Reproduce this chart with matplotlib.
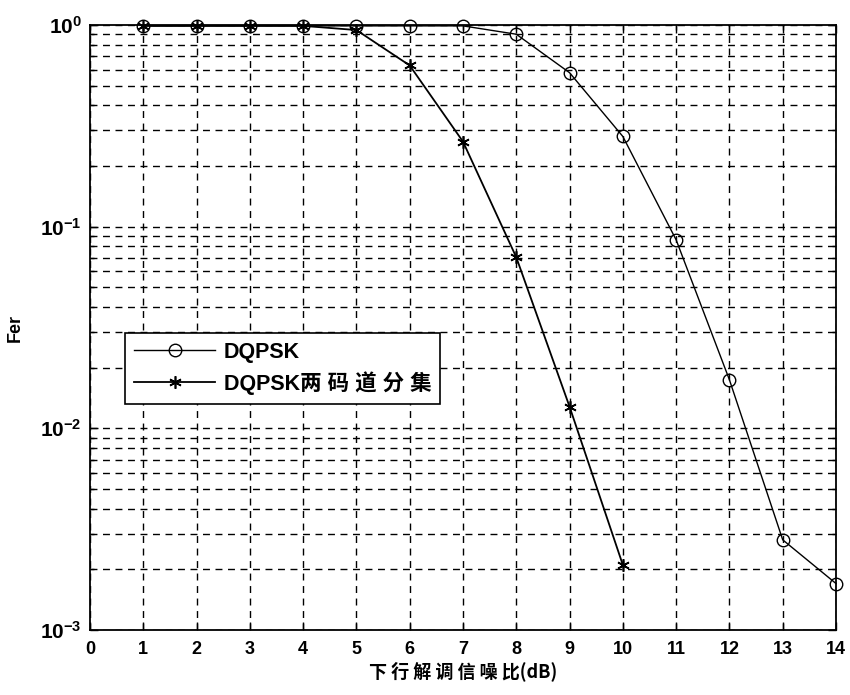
import numpy as np
import matplotlib
matplotlib.use("Agg")
import matplotlib.pyplot as plt
from matplotlib.ticker import LogLocator, NullFormatter, FixedLocator

plt.rcParams['font.family'] = ['Liberation Sans', 'Noto Sans CJK SC', 'DejaVu Sans']
plt.rcParams['font.weight'] = 'bold'
plt.rcParams['mathtext.fontset'] = 'custom'
plt.rcParams['mathtext.rm'] = 'Liberation Sans:bold'
plt.rcParams['mathtext.default'] = 'rm'

# SNR points (dB)
snr_dqpsk = [1, 2, 3, 4, 5, 6, 7, 8, 9, 10, 11, 12, 13, 14]
snr_div = [1, 2, 3, 4, 5, 6, 7, 8, 9, 10]

# frame error rates
fer_dqpsk = [0.99, 0.99, 0.99, 0.99, 0.99, 0.99, 0.99, 0.90, 0.58, 0.28,
             0.086, 0.0174, 0.0028, 0.0017]
fer_div = [0.99, 0.99, 0.99, 0.99, 0.944, 0.63, 0.264, 0.0705, 0.0128, 0.0021]

series_labels = ["DQPSK", "DQPSK两 码 道 分 集"]
x_ticks = list(range(0, 15))

fig = plt.figure(figsize=(8.5, 6.95), dpi=100)
ax = fig.add_axes([90 / 850, 65 / 695, 746 / 850, 605 / 695])

ax.semilogy(snr_dqpsk, fer_dqpsk, color='black', linewidth=1.0, marker='o',
            markersize=9, markerfacecolor='none', markeredgecolor='black',
            markeredgewidth=1.0, label=series_labels[0], clip_on=False, zorder=3)
ax.semilogy(snr_div, fer_div, color='black', linewidth=1.3, marker=(6, 2, 0),
            markersize=9, markeredgewidth=1.2, markeredgecolor='black',
            label=series_labels[1], clip_on=False, zorder=3)

ax.set_xlim(0, 14)
ax.set_ylim(1e-3, 1)
ax.xaxis.set_major_locator(FixedLocator(x_ticks))
ax.set_xticklabels([str(t) for t in x_ticks])
ax.yaxis.set_minor_locator(LogLocator(base=10, subs=np.arange(2, 10), numticks=10))
ax.yaxis.set_minor_formatter(NullFormatter())
ax.set_yticks([1e-3, 1e-2, 1e-1, 1])
ax.set_yticklabels([r'$10^{-3}$', r'$10^{-2}$', r'$10^{-1}$', r'$10^{0}$'])

ax.tick_params(axis='both', which='both', direction='in', top=True, right=True,
               width=1.0, color='black')
ax.tick_params(axis='x', which='major', labelsize=13, length=6, pad=8)
ax.tick_params(axis='y', which='major', labelsize=15, length=6, pad=6)
ax.tick_params(axis='y', which='minor', length=3)

ax.grid(True, which='major', axis='both', linestyle=(0, (5, 4)), color='black', linewidth=1.0)
ax.grid(True, which='minor', axis='y', linestyle=(0, (5, 4)), color='black', linewidth=1.0)

for sp in ax.spines.values():
    sp.set_linewidth(1.3)
    sp.set_color('black')

ax.set_xlabel("下 行 解 调 信 噪 比(dB)", fontsize=13, fontweight='bold',
              family=['Noto Sans CJK SC', 'DejaVu Sans'], labelpad=2)
ax.set_ylabel("Fer", fontsize=13, fontweight='bold', labelpad=12)

leg = ax.legend(loc='upper left', bbox_to_anchor=(35 / 746, 297 / 605),
                frameon=True, fancybox=False, edgecolor='black',
                handlelength=3.8, borderpad=0.4, labelspacing=0.4,
                handletextpad=0.4, borderaxespad=0.0,
                prop={'family': ['Liberation Sans', 'Noto Sans CJK SC'],
                      'weight': 'bold', 'size': 15.5})
leg.get_frame().set_linewidth(1.2)
leg.get_frame().set_alpha(1)

plt.savefig("out.png", dpi=100)
